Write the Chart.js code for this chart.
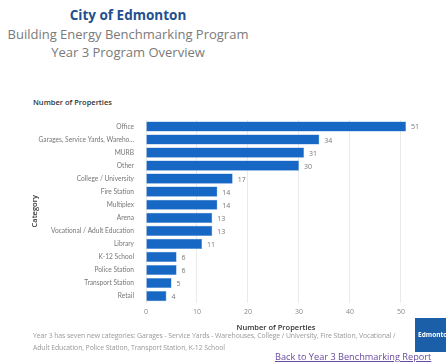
<!DOCTYPE html>
<html>
<head>
<meta charset="utf-8">
<script src="https://cdn.jsdelivr.net/npm/chart.js@4"></script>
<style>
  body { margin: 0; background: #fff; font-family: "Open Sans", sans-serif; }
  #page { position: relative; width: 446px; height: 362px; overflow: hidden; }
  .hdr { position: absolute; left: 0; width: 256px; text-align: center; }
  #t1 { top: 6px; font-size: 13.5px; font-weight: bold; color: #22508f; }
  #t2 { top: 25px; font-size: 13px; color: #7a7a7a; }
  #t3 { top: 43px; font-size: 13px; color: #7a7a7a; }
  #ctitle { position: absolute; left: 33px; top: 97px; font-size: 7.5px; font-weight: 600; color: #333; }
  #wrap { position: absolute; left: 0; top: 112px; width: 420px; height: 220px; }
  #note { position: absolute; left: 33px; top: 330px; width: 378px; font-size: 6.9px; line-height: 12px; color: #999; letter-spacing: -0.1px; }
  #link { position: absolute; left: 275px; top: 350px; font-size: 9.2px; color: #6a4aa0; text-decoration: underline; }
  #logo { position: absolute; left: 415px; top: 318px; width: 40px; height: 34px; background: #1a5fa8; color: #fff;
          font-size: 6.5px; font-weight: bold; line-height: 34px; padding-left: 3px; }
</style>
</head>
<body>
<div id="page">
  <div class="hdr" id="t1">City of Edmonton</div>
  <div class="hdr" id="t2">Building Energy Benchmarking Program</div>
  <div class="hdr" id="t3">Year 3 Program Overview</div>
  <div id="ctitle">Number of Properties</div>
  <div id="wrap"><canvas id="chart"></canvas></div>
  <div id="note">Year 3 has seven new categories: Garages - Service Yards - Warehouses, College / University, Fire Station, Vocational / Adult Education, Police Station, Transport Station, K-12 School</div>
  <div id="link">Back to Year 3 Benchmarking Report</div>
  <div id="logo">Edmonton</div>
</div>
<script>
var categories = ['Office', 'Garages, Service Yards, Warehouses', 'MURB', 'Other', 'College / University',
    'Fire Station', 'Multiplex', 'Arena', 'Vocational / Adult Education', 'Library',
    'K-12 School', 'Police Station', 'Transport Station', 'Retail'];
var properties = [51, 34, 31, 30, 17, 14, 14, 13, 13, 11, 6, 6, 5, 4];
var xTicks = [0, 10, 20, 30, 40, 50];

var valueLabels = {
    id: 'valueLabels',
    afterDatasetsDraw: function(chart) {
        var ctx = chart.ctx;
        var meta = chart.getDatasetMeta(0);
        ctx.save();
        ctx.font = '7px "Open Sans"';
        ctx.fillStyle = '#777';
        ctx.textBaseline = 'middle';
        meta.data.forEach(function(bar, i) {
            ctx.fillText(properties[i], bar.x + 5, bar.y + 1);
        });
        ctx.restore();
    }
};

window.onload = function() {
    var ctx = document.getElementById('chart').getContext('2d');
    window.myBar = new Chart(ctx, {
        type: 'bar',
        data: {
            labels: categories,
            datasets: [{
                data: properties,
                backgroundColor: '#1767c4',
                borderColor: '#4d8fd8',
                borderWidth: 0.5,
                barPercentage: 0.78,
                categoryPercentage: 1
            }]
        },
        plugins: [valueLabels],
        options: {
            indexAxis: 'y',
            responsive: true,
            maintainAspectRatio: false,
            animation: false,
            layout: { padding: { left: 30, right: 14, top: 6, bottom: 0 } },
            plugins: {
                legend: { display: false },
                tooltip: { enabled: false }
            },
            scales: {
                x: {
                    min: 0,
                    max: 51,
                    afterBuildTicks: function(scale) {
                        scale.ticks = xTicks.map(function(v) { return { value: v }; });
                    },
                    afterFit: function(scale) { scale.height = 29.4; },
                    grid: { color: '#e4e4e4', lineWidth: 0.8, drawTicks: false },
                    border: { display: false },
                    ticks: { font: { family: 'Open Sans', size: 7 }, color: '#888', padding: 5 },
                    title: {
                        display: true,
                        text: 'Number of Properties',
                        font: { family: 'Open Sans', size: 7.5, weight: '600' },
                        color: '#333',
                        padding: { top: 1, bottom: 0 }
                    }
                },
                y: {
                    afterFit: function(scale) { scale.width = 116; },
                    grid: { display: false },
                    border: { display: false },
                    ticks: {
                        font: { family: 'Lato', size: 6.6 },
                        color: '#777',
                        padding: 4,
                        callback: function(v, i) {
                            var s = categories[i];
                            return s.length > 30 ? s.slice(0, 30) + '...' : s;
                        }
                    },
                    title: {
                        display: true,
                        text: 'Category',
                        font: { family: 'Open Sans', size: 7.5, weight: '600' },
                        color: '#333',
                        padding: 0
                    }
                }
            }
        }
    });
};
</script>
</body>
</html>
